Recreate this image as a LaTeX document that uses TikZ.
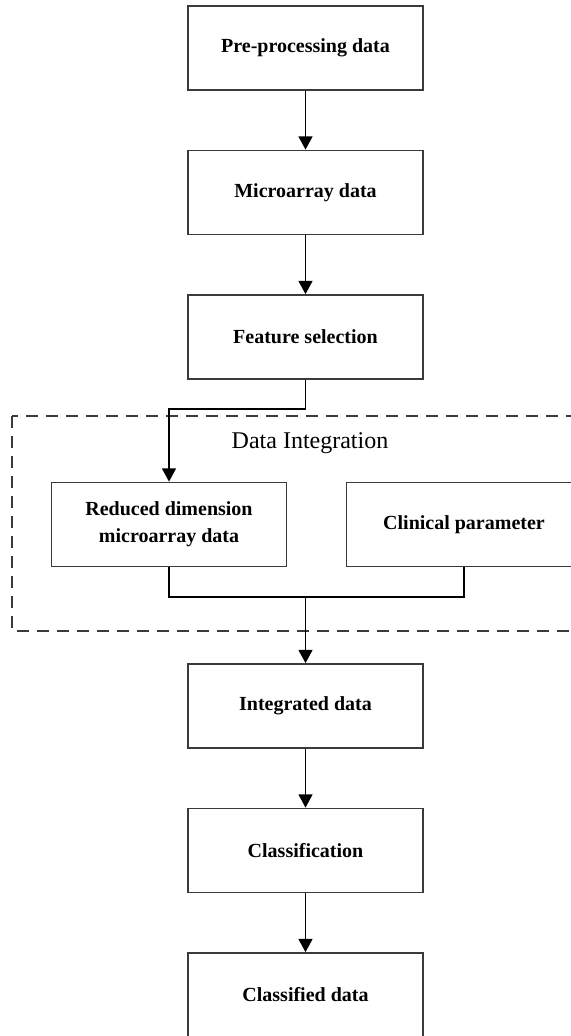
\documentclass[tikz,border=0pt]{standalone}
\usepackage{fontspec}
\setmainfont{Liberation Serif}
\usetikzlibrary{arrows.meta}
\definecolor{edge}{HTML}{3A3A3A}
\tikzset{
  procbox/.style={draw=edge, line width=1.3pt, fill=white, minimum width=235*0.75pt, minimum height=84*0.75pt,
    align=center, inner sep=2pt, font=\bfseries\fontsize{15}{20}\selectfont},
  arr/.style={line width=1.3pt, draw=black, -{Triangle[width=10.5pt,length=10pt]}},
  link/.style={line width=1.3pt, draw=black},
  groupbox/.style={draw=edge, line width=1.2pt, dash pattern=on 9pt off 6pt},
}
\begin{document}
\begin{tikzpicture}[x=0.75pt, y=-0.75pt]
\useasboundingbox (0,0) rectangle (571,1036);
\clip (0,0) rectangle (571,1036);
% group
\draw[groupbox] (12,416) rectangle (600,631);
\node[font=\fontsize{18}{22}\selectfont] (lbl) at (310,443) {Data Integration};
% boxes
\node[procbox] (pre) at (305.5,48) {Pre-processing data};
\node[procbox] (micro) at (305.5,192.5) {Microarray data};
\node[procbox] (feat) at (305.5,337) {Feature selection};
\node[procbox] (red) at (169,524.5) {Reduced dimension\\microarray data};
\node[procbox] (clin) at (464,524.5) {Clinical parameter};
\node[procbox] (integ) at (305.5,706) {Integrated data};
\node[procbox] (cls) at (305.5,850.5) {Classification};
\node[procbox] (out) at (305.5,995) {Classified data};
\coordinate (bend) at (305.5,409);
\coordinate (merge) at (305.5,597);
% connectors
\draw[arr] (pre) -- (micro);
\draw[arr] (micro) -- (feat);
\draw[link] (feat.south) -- (bend);
\draw[arr] (bend) -| (red.north);
\draw[link] (red.south) |- (merge) -| (clin.south);
\draw[arr] (merge) -- (integ.north);
\draw[arr] (integ) -- (cls);
\draw[arr] (cls) -- (out);
\end{tikzpicture}
\end{document}
